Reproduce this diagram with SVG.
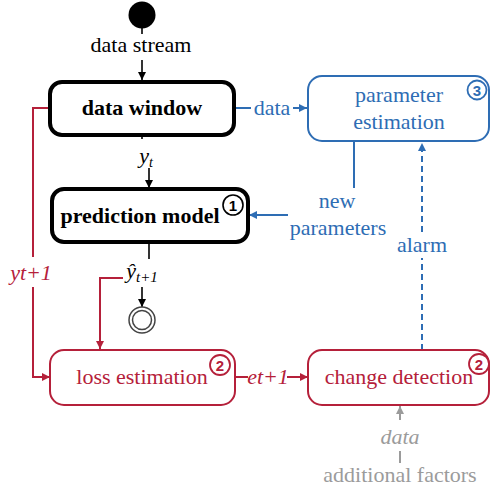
<svg xmlns="http://www.w3.org/2000/svg" width="491" height="490" viewBox="0 0 491 490">
<defs>
<style>
.b{font-weight:bold}
.blk{fill:#000}
.blu{fill:#2e6db4}
.red{fill:#b5203a}
.gry{fill:#9b9b9b}
.it{font-style:italic}
.lk{stroke:#000;stroke-width:1.6;fill:none}
.lb{stroke:#2e6db4;stroke-width:2;fill:none}
.lr{stroke:#b5203a;stroke-width:2;fill:none}
.lg{stroke:#9b9b9b;stroke-width:2;fill:none}
</style>
<marker id="ak" viewBox="0 0 10 10" refX="10" refY="5" markerWidth="8" markerHeight="8" markerUnits="userSpaceOnUse" orient="auto"><path d="M0,0L10,5L0,10z" fill="#000"/></marker>
<marker id="ab" viewBox="0 0 10 10" refX="10" refY="5" markerWidth="8" markerHeight="8" markerUnits="userSpaceOnUse" orient="auto"><path d="M0,0L10,5L0,10z" fill="#2e6db4"/></marker>
<marker id="ar" viewBox="0 0 10 10" refX="10" refY="5" markerWidth="8" markerHeight="8" markerUnits="userSpaceOnUse" orient="auto"><path d="M0,0L10,5L0,10z" fill="#b5203a"/></marker>
<marker id="ag" viewBox="0 0 10 10" refX="10" refY="5" markerWidth="8" markerHeight="8" markerUnits="userSpaceOnUse" orient="auto"><path d="M0,0L10,5L0,10z" fill="#9b9b9b"/></marker>
</defs>
<rect width="491" height="490" fill="#fff"/>

<g id="connectors" font-family="Liberation Serif, Times New Roman, serif" font-size="22" text-anchor="middle">
  <line class="lk" x1="142" y1="28" x2="142" y2="34"/>
  <line class="lk" x1="142" y1="60" x2="142" y2="80" marker-end="url(#ak)"/>
  <line class="lk" x1="142" y1="136" x2="142" y2="139"/>
  <line class="lk" x1="149" y1="168" x2="149" y2="188" marker-end="url(#ak)"/>
  <line class="lk" x1="149" y1="243" x2="149" y2="259"/>
  <line class="lk" x1="142" y1="287" x2="142" y2="307" marker-end="url(#ak)"/>
  <line class="lb" x1="235" y1="108" x2="251" y2="108"/>
  <line class="lb" x1="293" y1="108" x2="307" y2="108" marker-end="url(#ab)"/>
  <line class="lb" x1="354" y1="142" x2="354" y2="188"/>
  <line class="lb" x1="288" y1="215" x2="249" y2="215" marker-end="url(#ab)"/>
  <line class="lb" x1="422" y1="350" x2="422" y2="258" stroke-dasharray="6,4"/>
  <line class="lb" x1="422" y1="232" x2="422" y2="143" stroke-dasharray="6,4" marker-end="url(#ab)"/>
  <polyline class="lr" points="50,108 33,108 33,257"/>
  <polyline class="lr" points="33,287 33,377 50,377" marker-end="url(#ar)"/>
  <polyline class="lr" points="123,278 100,278 100,349" marker-end="url(#ar)"/>
  <line class="lr" x1="235" y1="377" x2="248" y2="377"/>
  <line class="lr" x1="287" y1="377" x2="308" y2="377" marker-end="url(#ar)"/>
  <line class="lg" x1="400" y1="420" x2="400" y2="406" marker-end="url(#ag)"/>
  <line class="lg" x1="400" y1="451" x2="400" y2="463"/>

  <text class="blk" x="141" y="52">data stream</text>
  <text class="blk it" x="146" y="163">y<tspan font-size="14" dy="4">t</tspan></text>
  <text class="blk it" x="142" y="278">ŷ<tspan font-size="15" dy="4">t+1</tspan></text>
  <text class="blu" x="272" y="115">data</text>
  <text class="blu" x="337" y="208">new</text>
  <text class="blu" x="338" y="235">parameters</text>
  <text class="blu" x="422" y="252">alarm</text>
  <text class="red it" x="31" y="280">yt+1</text>
  <text class="red it" x="268" y="384">et+1</text>
  <text class="gry it" x="400" y="444">data</text>
  <text class="gry" x="400" y="482">additional factors</text>
</g>

<g id="start">
  <circle cx="142" cy="15" r="13.5" fill="#000"/>
</g>

<g id="data-window" font-family="Liberation Serif, Times New Roman, serif" font-size="22" text-anchor="middle">
  <rect x="50" y="82" width="184" height="53" rx="12" fill="#fff" stroke="#000" stroke-width="4"/>
  <text class="b blk" x="142" y="115">data window</text>
</g>

<g id="parameter-estimation" font-family="Liberation Serif, Times New Roman, serif" font-size="22" text-anchor="middle">
  <rect x="308" y="76" width="181" height="65" rx="14" fill="#fff" stroke="#2e6db4" stroke-width="2"/>
  <text class="blu" x="399" y="102">parameter</text>
  <text class="blu" x="399" y="129">estimation</text>
  <circle cx="477" cy="90" r="9.5" fill="#fff" stroke="#2e6db4" stroke-width="1.8"/>
  <text class="blu b" x="477" y="95.5" font-family="Liberation Sans, Arial, sans-serif" font-size="15">3</text>
</g>

<g id="prediction-model" font-family="Liberation Serif, Times New Roman, serif" font-size="22" text-anchor="middle">
  <rect x="52" y="189" width="196" height="53" rx="12" fill="#fff" stroke="#000" stroke-width="4"/>
  <text class="b blk" x="140" y="223">prediction model</text>
  <circle cx="233" cy="205" r="10" fill="#fff" stroke="#000" stroke-width="1.6"/>
  <text class="blk b" x="233" y="210.5" font-family="Liberation Sans, Arial, sans-serif" font-size="15">1</text>
</g>

<g id="end">
  <circle cx="142" cy="320" r="13" fill="#fff" stroke="#444" stroke-width="1.5"/>
  <circle cx="142" cy="320" r="9.5" fill="#fff" stroke="#444" stroke-width="1.5"/>
</g>

<g id="loss-estimation" font-family="Liberation Serif, Times New Roman, serif" font-size="22" text-anchor="middle">
  <rect x="50" y="350" width="185" height="55" rx="14" fill="#fff" stroke="#b5203a" stroke-width="2"/>
  <text class="red" x="142" y="384">loss estimation</text>
  <circle cx="220" cy="365" r="10" fill="#fff" stroke="#b5203a" stroke-width="1.8"/>
  <text class="red b" x="220" y="370.5" font-family="Liberation Sans, Arial, sans-serif" font-size="15">2</text>
</g>

<g id="change-detection" font-family="Liberation Serif, Times New Roman, serif" font-size="22" text-anchor="middle">
  <rect x="308" y="350" width="181" height="55" rx="14" fill="#fff" stroke="#b5203a" stroke-width="2"/>
  <text class="red" x="399" y="384">change detection</text>
  <circle cx="479" cy="364" r="10" fill="#fff" stroke="#b5203a" stroke-width="1.8"/>
  <text class="red b" x="479" y="369.5" font-family="Liberation Sans, Arial, sans-serif" font-size="15">2</text>
</g>
</svg>
